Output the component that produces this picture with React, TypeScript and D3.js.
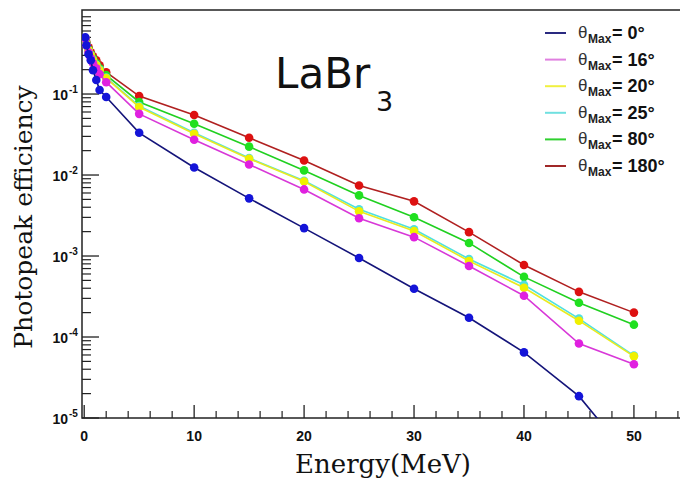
import React from "react";
import * as d3 from "d3";

const energies = [0.1, 0.2, 0.4, 0.6, 0.8, 1.1, 1.4, 2, 5, 10, 15, 20, 25, 30, 35, 40, 45, 50];

const eff0 = [0.5, 0.4, 0.31, 0.261, 0.197, 0.149, 0.112, 0.0918, 0.0332, 0.0124, 0.00515, 0.00221, 0.000944, 0.000394, 0.000173, 6.46e-5, 1.86e-5, 2.8e-6];
const eff16 = [0.486, 0.4, 0.327, 0.277, 0.24, 0.208, 0.176, 0.14, 0.0569, 0.0273, 0.0135, 0.00664, 0.00292, 0.00171, 0.000754, 0.000323, 8.3e-5, 4.6e-5];
const eff20 = [0.486, 0.41, 0.347, 0.301, 0.261, 0.227, 0.197, 0.157, 0.0692, 0.0323, 0.0159, 0.00832, 0.00356, 0.00203, 0.000869, 0.000405, 0.000159, 5.77e-5];
const eff25 = [0.486, 0.41, 0.35, 0.305, 0.265, 0.23, 0.2, 0.16, 0.071, 0.0332, 0.0162, 0.0085, 0.00378, 0.00214, 0.000918, 0.000441, 0.000169, 5.9e-5];
const eff80 = [0.486, 0.423, 0.356, 0.31, 0.277, 0.24, 0.208, 0.171, 0.0798, 0.043, 0.0224, 0.0114, 0.0056, 0.00301, 0.00145, 0.000552, 0.000265, 0.000142];
const eff180 = [0.486, 0.435, 0.378, 0.327, 0.292, 0.261, 0.227, 0.186, 0.0944, 0.0552, 0.0288, 0.0151, 0.00743, 0.00473, 0.00197, 0.000776, 0.000361, 0.0002];

const legendAngles = ["0°", "16°", "20°", "25°", "80°", "180°"];
const xTickValues = [0, 10, 20, 30, 40, 50];
const yTickExps = [-1, -2, -3, -4, -5];

const series = [
  { name: legendAngles[0], values: eff0, line: "#14147a", marker: "#1414d8", legend: "#2a2a80" },
  { name: legendAngles[1], values: eff16, line: "#d838d8", marker: "#e020e0", legend: "#e080e0" },
  { name: legendAngles[3], values: eff25, line: "#50e0e0", marker: "#50e0e0", legend: "#70e0e0" },
  { name: legendAngles[2], values: eff20, line: "#eaea20", marker: "#f0f000", legend: "#f0f040" },
  { name: legendAngles[4], values: eff80, line: "#20d020", marker: "#20e020", legend: "#30d030" },
  { name: legendAngles[5], values: eff180, line: "#b02020", marker: "#dd1111", legend: "#a02828" },
];
const drawOrder = [5, 4, 2, 3, 1, 0];
const legendOrder = [0, 1, 3, 2, 4, 5];

const W = 680;
const H = 484;
const left = 82;
const right = 690;
const top = 10;
const bottom = 418;

export default function App() {
  const x = d3.scaleLinear().domain([-0.2, 55.1]).range([left, right]);
  const y = d3.scaleLog().domain([1e-5, 1.09]).range([bottom, top]);

  const line = d3
    .line<[number, number]>()
    .x((d) => x(d[0]))
    .y((d) => y(d[1]));

  const xMinor = d3.range(2, 56, 2).filter((v) => v % 10 !== 0);
  const yMinor: number[] = [];
  for (let e = -5; e <= 0; e++) {
    for (let m = 2; m <= 9; m++) {
      const v = m * Math.pow(10, e);
      if (v <= 1.09) yMinor.push(v);
    }
  }

  const tickFont = "'Liberation Sans', Arial, sans-serif";

  return (
    <svg
      width={W}
      height={H}
      style={{ position: "fixed", left: 0, top: 0, background: "#fff" }}
    >
      <defs>
        <clipPath id="plotClip">
          <rect x={left} y={top} width={right - left} height={bottom - top} />
        </clipPath>
      </defs>
      <rect x={0} y={0} width={W} height={H} fill="#fff" />

      {/* frame */}
      <rect x={left} y={top} width={right - left} height={bottom - top} fill="none" stroke="#222" strokeWidth={1.5} />

      {/* x ticks */}
      {xTickValues.map((v) => (
        <line key={"xt" + v} x1={x(v)} x2={x(v)} y1={bottom} y2={bottom - 13} stroke="#222" strokeWidth={1.3} />
      ))}
      {xMinor.map((v) => (
        <line key={"xm" + v} x1={x(v)} x2={x(v)} y1={bottom} y2={bottom - 7} stroke="#222" strokeWidth={1.2} />
      ))}
      {xTickValues.map((v) => (
        <text key={"xl" + v} x={x(v)} y={441} textAnchor="middle" fontFamily={tickFont} fontWeight="bold" fontSize={14} fill="#111">
          {v}
        </text>
      ))}

      {/* y ticks */}
      {yTickExps.map((e) => (
        <line key={"yt" + e} x1={left} x2={left + 17} y1={y(Math.pow(10, e))} y2={y(Math.pow(10, e))} stroke="#222" strokeWidth={1.3} />
      ))}
      {yMinor.map((v, i) => (
        <line key={"ym" + i} x1={left} x2={left + 9} y1={y(v)} y2={y(v)} stroke="#222" strokeWidth={1.2} />
      ))}
      {yTickExps.map((e) => (
        <text key={"yl" + e} x={68} y={y(Math.pow(10, e)) + 6} textAnchor="end" fontFamily={tickFont} fontWeight="bold" fontSize={14} fill="#111">
          10
        </text>
      ))}
      {yTickExps.map((e) => (
        <text key={"ye" + e} x={69} y={y(Math.pow(10, e)) - 1} textAnchor="start" fontFamily={tickFont} fontWeight="bold" fontSize={10} fill="#111">
          {"-" + Math.abs(e)}
        </text>
      ))}

      {/* series */}
      <g clipPath="url(#plotClip)">
        {drawOrder.map((si) => {
          const s = series[si];
          const pts: [number, number][] = energies.map((e, i) => [e, s.values[i]]);
          return (
            <g key={"s" + si}>
              <path d={line(pts) || ""} fill="none" stroke={s.line} strokeWidth={1.6} />
              {pts.map((p, i) => (
                <circle key={i} cx={x(p[0])} cy={y(p[1])} r={4.3} fill={s.marker} />
              ))}
            </g>
          );
        })}
      </g>

      {/* title */}
      <text x={275} y={88} fontFamily="'DejaVu Sans', sans-serif" fontSize={42} fill="#111">
        LaBr
      </text>
      <text x={376} y={111} fontFamily="'DejaVu Sans', sans-serif" fontSize={27} fill="#111">
        3
      </text>

      {/* legend */}
      {legendOrder.map((si, k) => {
        const s = series[si];
        const ly = 33 + k * 26.6;
        return (
          <g key={"lg" + k}>
            <line x1={545} x2={566} y1={ly} y2={ly} stroke={s.legend} strokeWidth={2} />
            <text x={578} y={ly + 5} fontFamily={tickFont} fontSize={17} fill="#333">
              θ
            </text>
            <text x={588} y={ly + 10} fontFamily={tickFont} fontWeight="bold" fontSize={12} fill="#222">
              Max
            </text>
            <text x={612} y={ly + 6} fontFamily={tickFont} fontWeight="bold" fontSize={18} fill="#111">
              {"= " + s.name}
            </text>
          </g>
        );
      })}

      {/* axis titles */}
      <text x={383} y={473} textAnchor="middle" fontFamily="'DejaVu Serif', serif" fontSize={26} fill="#111">
        Energy(MeV)
      </text>
      <text
        transform={`translate(32, 217) rotate(-90)`}
        textAnchor="middle"
        fontFamily="'DejaVu Serif', serif"
        fontSize={25}
        fill="#111"
      >
        Photopeak efficiency
      </text>
    </svg>
  );
}
